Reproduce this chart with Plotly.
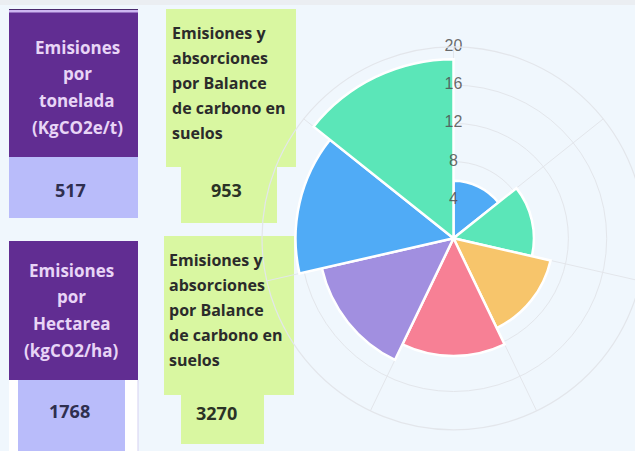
import plotly.graph_objects as go

# ---------------- data ----------------
segment_values = [6.0, 8.4, 10.4, 12.3, 14.1, 16.5, 18.7]
segment_colors = ["#50ABF6", "#5BE6B8", "#F7C56B", "#F78095", "#A18FE0", "#50ABF6", "#5BE6B8"]
radial_ticks = [4, 8, 12, 16, 20]
radial_tick_labels = ["4", "8", "12", "16", "20"]

purple_titles = [
    ["Emisiones", "por", "tonelada", "(KgCO2e/t)"],
    ["Emisiones", "por", "Hectarea", "(kgCO2/ha)"],
]
purple_values = ["517", "1768"]
lime_titles = [
    ["Emisiones y", "absorciones", "por Balance", "de carbono en", "suelos"],
    ["Emisiones y", "absorciones", "por Balance", "de carbono en", "suelos"],
]
lime_values = ["953", "3270"]

# ---------------- layout helpers ----------------
W, H = 660, 451
BG = "#F0F7FD"
PURPLE = "#612D92"
LAVENDER = "#B9BCFA"
LIME = "#D9F7A1"
GRID = "#E3E6EB"
FONT = "Open Sans"


def px(x):
    return x / W


def py(y):
    return 1 - y / H


def rect(x0, y0, x1, y1, color):
    return dict(type="rect", xref="paper", yref="paper", x0=px(x0), x1=px(x1),
                y0=py(y1), y1=py(y0), fillcolor=color, line_width=0, layer="below")


n = len(segment_values)
step = 360.0 / n
theta = [(i + 0.5) * step for i in range(n)]

fig = go.Figure()
fig.add_trace(go.Barpolar(
    r=segment_values, theta=theta, width=[step] * n,
    marker=dict(color=segment_colors, line=dict(color="white", width=2.5)),
    hoverinfo="skip",
))
fig.add_trace(go.Scatterpolar(
    r=radial_ticks, theta=[0] * len(radial_ticks), mode="text",
    text=radial_tick_labels,
    textfont=dict(family="Liberation Sans", size=16, color="rgba(80,80,80,0.85)"),
    hoverinfo="skip",
))

cx, cy, R = 453.5, 238.3, 191.5

shapes = [
    rect(0, 0, W, 5, "#EBEEF2"),
    # card 1
    rect(9, 9, 138, 157, PURPLE),
    rect(9, 9, 138, 10, "#4B2A6E"),
    rect(9, 10, 138, 12.5, "#CDB6F1"),
    rect(9, 157, 138, 218, LAVENDER),
    rect(166, 9, 296, 167, LIME),
    rect(181, 167, 277, 223, LIME),
    # card 2
    rect(9, 241, 138, 380, PURPLE),
    rect(9, 380, 138, 451, "#FFFFFF"),
    rect(18, 380, 125, 451, LAVENDER),
    rect(137.5, 380, 138.5, 451, "#D6D1F2"),
    rect(164, 236, 294, 395, LIME),
    rect(181, 395, 264, 444, LIME),
]

annotations = []


def label(x, y, text, size, color, anchor="center"):
    annotations.append(dict(
        x=px(x), y=py(y), xref="paper", yref="paper", text=text, showarrow=False,
        xanchor=anchor, yanchor="middle",
        font=dict(family=FONT, size=size, color=color, weight="bold"),
    ))


purple_pos = [(77, 47), (71, 270)]
for lines, (x, top) in zip(purple_titles, purple_pos):
    for i, t in enumerate(lines):
        label(x, top + i * 26.8, t, 17, "#E8D5F6")

for v, (x, y) in zip(purple_values, [(70.5, 190), (69.5, 411)]):
    label(x, y, v, 18, "#2F2F4F")

lime_tops = [(170, 33), (167, 260)]
for lines, (x, top) in zip(lime_titles, lime_tops):
    for i, t in enumerate(lines):
        label(x, top + i * 25, t, 16, "#2B2B2B", anchor="left")

for v, (x, y) in zip(lime_values, [(226, 190), (216.5, 413)]):
    label(x, y, v, 18, "#2B3326")

fig.update_layout(
    width=W, height=H,
    margin=dict(l=0, r=0, t=0, b=0),
    paper_bgcolor=BG, plot_bgcolor=BG,
    showlegend=False,
    shapes=shapes,
    annotations=annotations,
    polar=dict(
        domain=dict(x=[px(cx - R), px(cx + R)], y=[py(cy + R), py(cy - R)]),
        bgcolor="rgba(0,0,0,0)",
        angularaxis=dict(direction="clockwise", rotation=90,
                         tickvals=[i * step for i in range(n)],
                         showticklabels=False, ticks="",
                         gridcolor=GRID, gridwidth=1,
                         showline=True, linecolor=GRID, linewidth=1.2),
        radialaxis=dict(range=[0, 20], tickvals=radial_ticks,
                        showticklabels=False, ticks="",
                        gridcolor=GRID, gridwidth=1.2, showline=False),
    ),
)

fig.write_html(
    "out.html",
    config={"displayModeBar": False},
    post_script="document.body.style.margin='0';document.body.style.overflow='hidden';"
                "document.body.style.background='#F0F7FD';",
)
